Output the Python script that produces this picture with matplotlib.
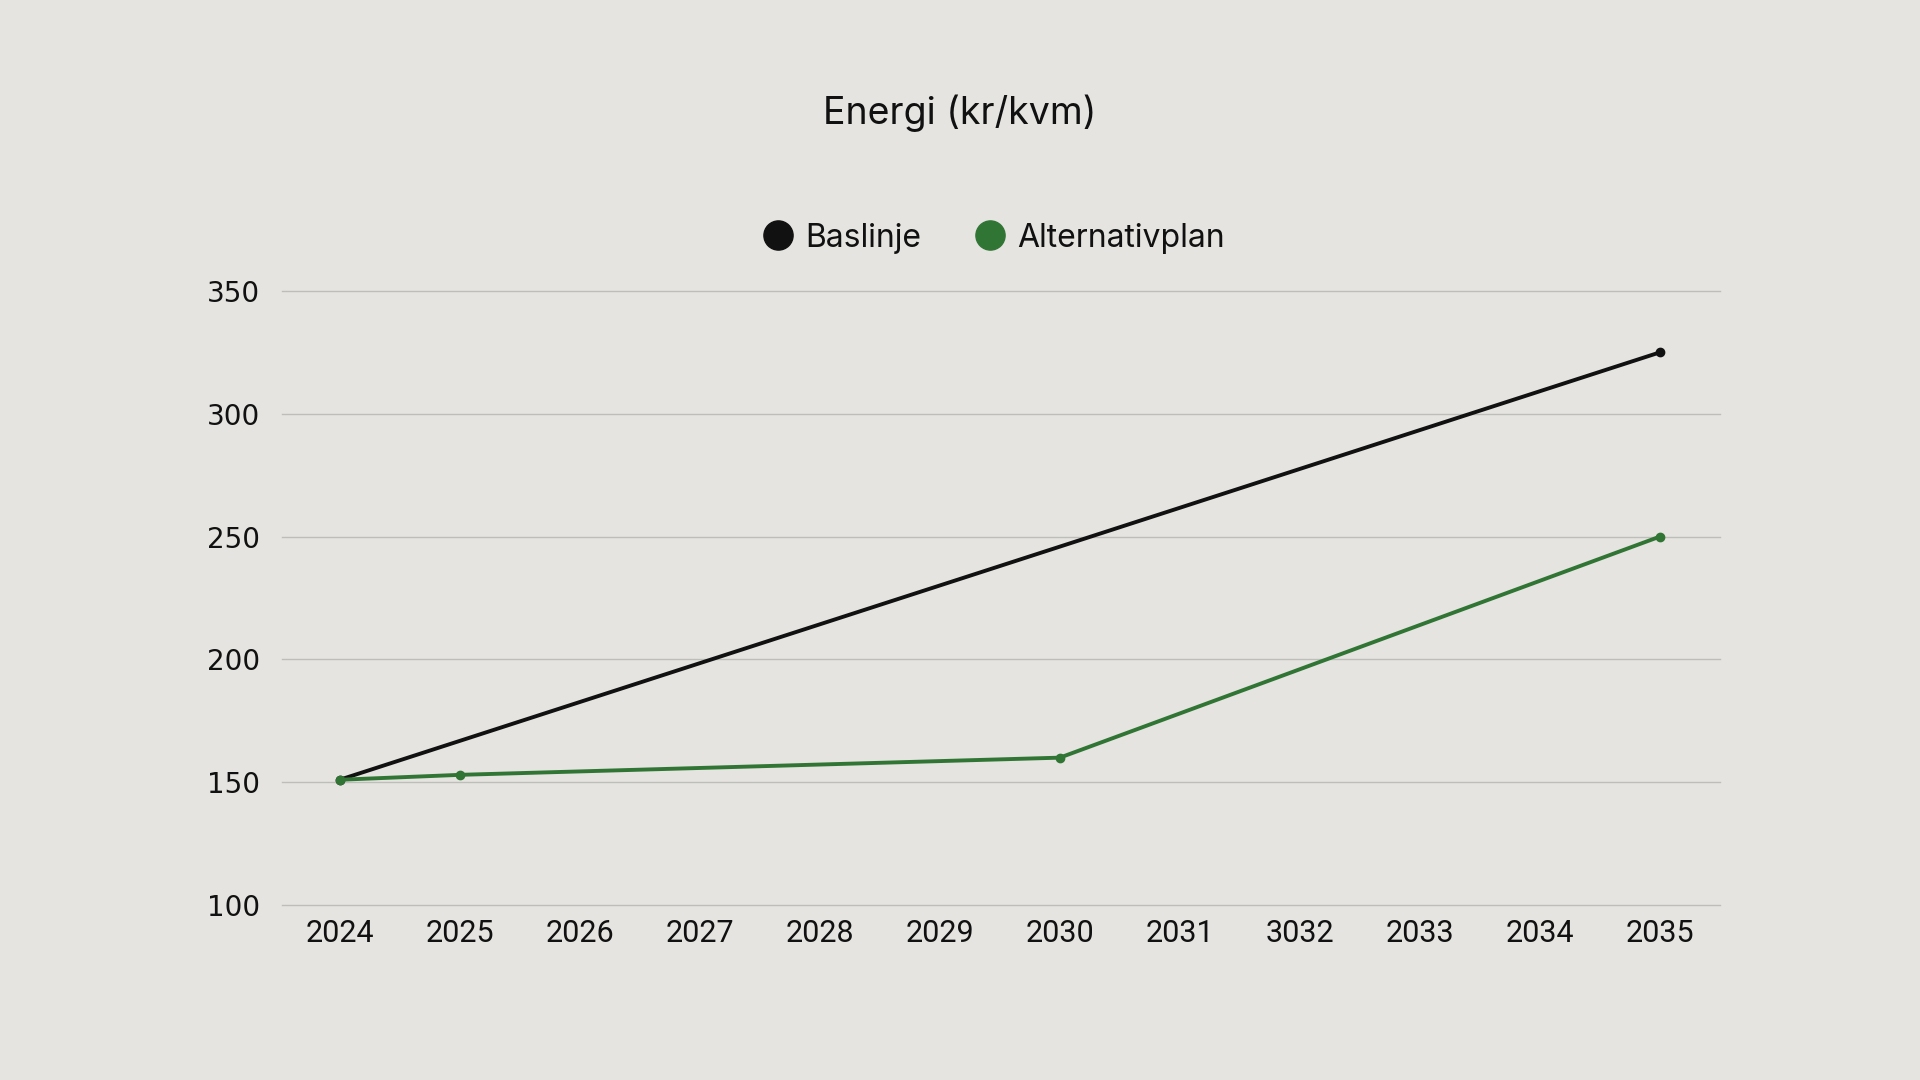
import matplotlib.pyplot as plt
import numpy as np

plt.rcParams['font.family'] = ['Inter', 'DejaVu Sans']

# data
years = ['2024', '2025', '2026', '2027', '2028', '2029', '2030',
         '2031', '3032', '2033', '2034', '2035']
baslinje = [151, None, None, None, None, None, None, None, None, None, None, 325]
alternativplan = [151, 153, None, None, None, None, 160, None, None, None, None, 250]

bg = '#e5e4e0'
black = '#111111'
green = '#317535'

fig = plt.figure(figsize=(19.2, 10.8), dpi=100, facecolor=bg)
ax = fig.add_axes([0.1469, 0.162, 0.7489, 0.5686], facecolor=bg)

x = np.arange(len(years))


def plot_series(vals, color, label):
    xs = [i for i, v in enumerate(vals) if v is not None]
    ys = [v for v in vals if v is not None]
    ax.plot(xs, ys, color=color, lw=2.8, marker='o', ms=6, zorder=3)
    # legend handle
    ax.plot([], [], color=color, ls='none', marker='o', ms=21, label=label)


plot_series(baslinje, black, 'Baslinje')
plot_series(alternativplan, green, 'Alternativplan')

ax.set_xlim(-0.48, 11.5)
ax.set_ylim(100, 350)
ax.set_yticks([100, 150, 200, 250, 300, 350])
ax.set_xticks(x)
ax.set_xticklabels(years)
ax.grid(axis='y', color='#bdbdb9', lw=1)
for gl in ax.get_ygridlines():
    gl.set_clip_on(False)
ax.set_axisbelow(True)
for s in ax.spines.values():
    s.set_visible(False)
ax.tick_params(axis='both', length=0, colors='#111111')
ax.tick_params(axis='y', pad=16, labelsize=20)
ax.tick_params(axis='x', pad=10, labelsize=22)
for lab in ax.get_yticklabels():
    lab.set_fontfamily(['DejaVu Sans'])
for lab in ax.get_xticklabels():
    lab.set_fontfamily(['Roboto', 'DejaVu Sans'])

fig.text(0.5, 1 - 113 / 1080, 'Energi (kr/kvm)', ha='center', va='center',
         fontsize=27, color='#111111')

handles, labels = ax.get_legend_handles_labels()
leg = fig.legend(handles, labels, loc='center', bbox_to_anchor=(0.516, 1 - 238 / 1080),
                 ncol=2, frameon=False, fontsize=23, handletextpad=0.2,
                 columnspacing=1.5, handlelength=1.3)
for t in leg.get_texts():
    t.set_color('#111111')

fig.savefig('out.png', dpi=100, facecolor=bg)
